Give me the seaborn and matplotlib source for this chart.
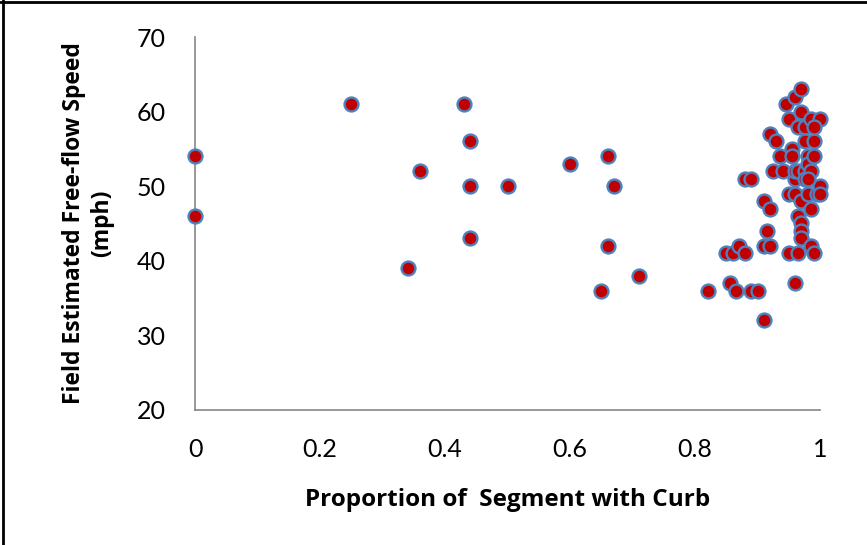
import matplotlib
matplotlib.use("Agg")
import matplotlib.pyplot as plt
import seaborn as sns
import pandas as pd
from matplotlib.lines import Line2D

curb_proportion = [
    0.0, 0.0, 0.25, 0.34, 0.36, 0.43, 0.44, 0.44, 0.44, 0.50, 0.60, 0.65, 0.66, 0.66,
    0.67, 0.71, 0.82, 0.85, 0.86, 0.855, 0.865, 0.87, 0.88, 0.88, 0.89, 0.89, 0.90,
    0.91, 0.91, 0.915, 0.91, 0.92, 0.92, 0.92, 0.925, 0.93, 0.935, 0.94, 0.945, 0.95,
    0.95, 0.95, 0.955, 0.955, 0.96, 0.96, 0.96, 0.96, 0.96, 0.965, 0.965, 0.965, 0.965,
    0.97, 0.97, 0.97, 0.97, 0.97, 0.97, 0.975, 0.975, 0.975, 0.975, 0.98, 0.98, 0.98,
    0.985, 0.985, 0.985, 0.985, 0.99, 0.99, 0.99, 0.995, 1.0, 1.0, 1.0, 0.98, 0.99,
]
free_flow_speed = [
    54, 46, 61, 39, 52, 61, 56, 50, 43, 50, 53, 36, 54, 42,
    50, 38, 36, 41, 41, 37, 36, 42, 41, 51, 51, 36, 36,
    32, 48, 44, 42, 42, 57, 47, 52, 56, 54, 52, 61, 49,
    41, 59, 55, 54, 62, 51, 49, 52, 37, 58, 41, 52, 46,
    63, 60, 48, 45, 44, 43, 58, 52, 51, 56, 54, 53, 49,
    59, 47, 52, 42, 56, 54, 41, 49, 59, 50, 49, 51, 58,
]
x_ticks = [0, 0.2, 0.4, 0.6, 0.8, 1]
x_tick_labels = ["0", "0.2", "0.4", "0.6", "0.8", "1"]
y_ticks = [20, 30, 40, 50, 60, 70]

df = pd.DataFrame({"curb": curb_proportion, "speed": free_flow_speed})

sns.set_style("white")
plt.rcParams["font.family"] = ["Lato", "DejaVu Sans"]

fig = plt.figure(figsize=(8.67, 5.45), dpi=100)
ax = fig.add_axes([0.225, 0.248, 0.721, 0.684])

sns.scatterplot(data=df, x="curb", y="speed", ax=ax, s=100,
                color="#C00000", edgecolor="#4F81BD", linewidth=1.7, zorder=3, clip_on=False)

ax.set_xlim(0, 1)
ax.set_ylim(20, 70)
ax.set_xticks(x_ticks)
ax.set_xticklabels(x_tick_labels)
ax.set_yticks(y_ticks)

for side in ["top", "right"]:
    ax.spines[side].set_visible(False)
for side in ["left", "bottom"]:
    ax.spines[side].set_color("#868686")
    ax.spines[side].set_linewidth(1.2)

ax.tick_params(axis="both", which="major", direction="out", length=7, width=1.2,
               color="#868686", labelsize=18, labelcolor="black")
ax.tick_params(axis="y", pad=14)
ax.tick_params(axis="x", pad=13)

label_font = ["Open Sans", "DejaVu Sans"]
ax.set_xlabel("Proportion of  Segment with Curb", fontsize=17.5, fontweight="bold",
              family=label_font, labelpad=20, color="black")
ax.set_ylabel("Field Estimated Free-flow Speed\n(mph)", fontsize=16.5, fontweight="bold",
              family=label_font, labelpad=16, linespacing=1.25, color="black")

fig.add_artist(Line2D([0, 1], [0.996, 0.996], transform=fig.transFigure, color="black", lw=2))
fig.add_artist(Line2D([0.003, 0.003], [0, 1], transform=fig.transFigure, color="black", lw=2))

fig.savefig("out.png", dpi=100)
